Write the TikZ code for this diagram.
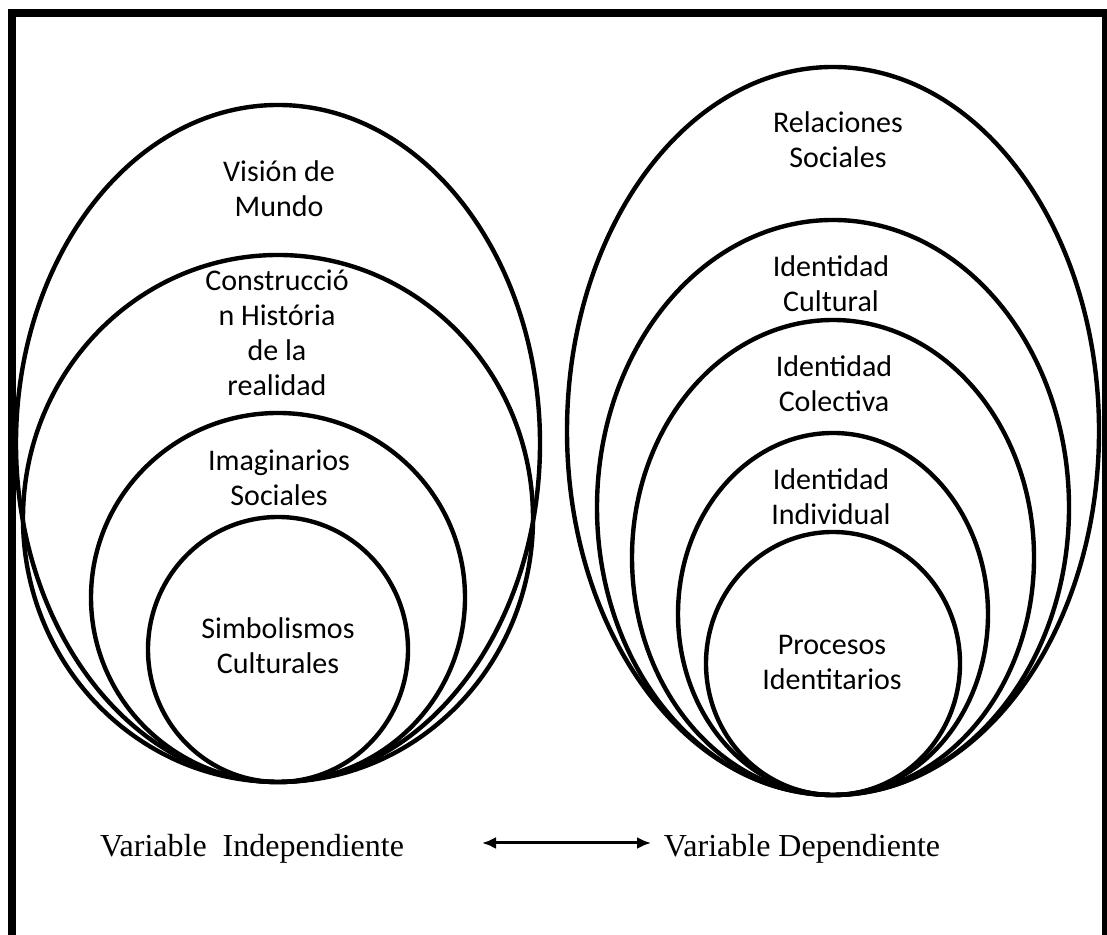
\documentclass[tikz,border=0pt]{standalone}
\usepackage{fontspec}
\setmainfont{Liberation Serif}
\newfontfamily\calibri{Carlito}
\usepackage{tikz}
\usetikzlibrary{positioning, calc, arrows.meta}
\tikzstyle{Arrow} = [
    line width = 1.5pt,
    {Latex[length=7pt, width=6pt]}-{Latex[length=7pt, width=6pt]}
]

\begin{document}
\begin{tikzpicture}[
x = 0.5pt, y = 0.5pt,
ring/.style = {line width = 2.2pt},
tag/.style = {
    align = center,
    font = \calibri\fontsize{15}{17.5}\selectfont
    },
var/.style = {font = \fontsize{16}{19}\selectfont}
]

\useasboundingbox (0,0) rectangle (1107,935);
\clip (0,0) rectangle (1107,935);

% frame
\draw[line width = 4pt] (12,-20) -- (12,922) -- (1106,922) -- (1106,-20);

% independiente
\draw[ring] (278,491.5) ellipse [x radius = 262, y radius = 338.5];
\draw[ring] (278,416.5) ellipse [x radius = 255, y radius = 263.5];
\draw[ring] (278,337.5) ellipse [x radius = 187, y radius = 184.5];
\draw[ring] (278,285.5) ellipse [x radius = 130, y radius = 132.5];

\node[tag] (vision) at (279,746) {Visión de\\Mundo};
\node[tag] (construccion) at (277,602) {Construcció\\n História\\de la\\realidad};
\node[tag] (imaginarios) at (279,457) {Imaginarios\\Sociales};
\node[tag] (simbolismos) at (278,289) {Simbolismos\\Culturales};

% dependiente
\draw[ring] (833,504) ellipse [x radius = 266, y radius = 364];
\draw[ring] (833,427.5) ellipse [x radius = 236, y radius = 287.5];
\draw[ring] (833,377.5) ellipse [x radius = 201, y radius = 237.5];
\draw[ring] (833,321) ellipse [x radius = 155, y radius = 181];
\draw[ring] (833,271.5) ellipse [x radius = 127, y radius = 131.5];

\node[tag] (relaciones) at (838,795.5) {Relaciones\\Sociales};
\node[tag] (cultural) at (831,651) {Identidad\\Cultural};
\node[tag] (colectiva) at (834,551) {Identidad\\Colectiva};
\node[tag] (individual) at (831,438) {Identidad\\Individual};
\node[tag] (procesos) at (832,273) {Procesos\\Identitarios};

% variables
\node[var] (indep) at (252,86) {Variable\ \ Independiente};
\node[var] (dep) at (802,86) {Variable Dependiente};
\coordinate (arrL) at (482,92);
\coordinate (arrR) at (651,92);
\draw[Arrow] (arrL) -- (arrR);

\end{tikzpicture}
\end{document}
